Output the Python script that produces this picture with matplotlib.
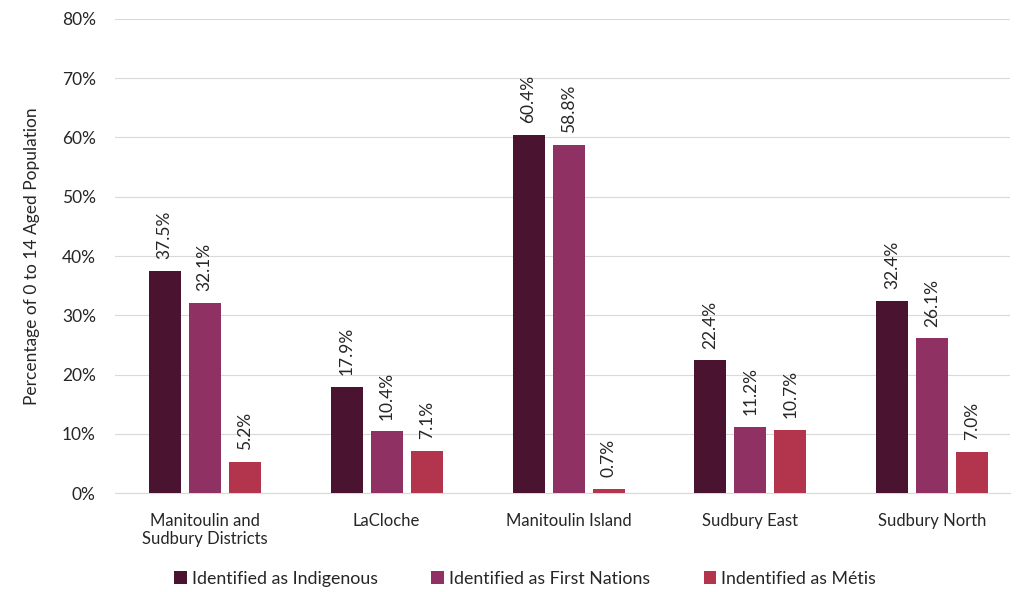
import matplotlib.pyplot as plt
import numpy as np
from matplotlib.ticker import PercentFormatter

plt.rcParams['font.family'] = ['Lato', 'DejaVu Sans']

regions = ["Manitoulin and\nSudbury Districts", "LaCloche", "Manitoulin Island",
           "Sudbury East", "Sudbury North"]
series_names = ["Identified as Indigenous", "Identified as First Nations",
                "Indentified as Métis"]
indigenous = [37.5, 17.9, 60.4, 22.4, 32.4]
first_nations = [32.1, 10.4, 58.8, 11.2, 26.1]
metis = [5.2, 7.1, 0.7, 10.7, 7.0]
colors = ["#4a1430", "#8f3163", "#b3344d"]

fig = plt.figure(figsize=(10.2, 5.92), dpi=100)
ax = fig.add_axes([0.113, 0.167, 0.877, 0.801])

x = np.arange(len(regions))
width = 0.176
step = 0.22
for i, (vals, name, c) in enumerate(zip([indigenous, first_nations, metis], series_names, colors)):
    pos = x + (i - 1) * step
    ax.bar(pos, vals, width, color=c, label=name, zorder=3)
    for px, v in zip(pos, vals):
        ax.text(px, v + 2.0, f"{v:.1f}%", rotation=90, ha="center", va="bottom",
                fontsize=12.5, color="#262626")

ax.set_ylim(0, 80)
ax.set_xlim(-0.492, 4.426)
ax.set_yticks(range(0, 81, 10))
ax.yaxis.set_major_formatter(PercentFormatter(decimals=0))
ax.grid(axis="y", color="#d9d9d9", linewidth=0.8, zorder=0)
ax.set_xticks(x)
ax.set_xticklabels(regions, fontsize=12, color="#262626")
ax.tick_params(axis="y", labelsize=12.5, colors="#262626", length=0, pad=14)
ax.tick_params(axis="x", length=0, pad=14)
for s in ["top", "right", "left"]:
    ax.spines[s].set_visible(False)
ax.spines["bottom"].set_color("#d9d9d9")
ax.set_ylabel("Percentage of 0 to 14 Aged Population", fontsize=12.5, color="#262626", labelpad=16)

fig.legend(loc="lower center", bbox_to_anchor=(0.515, -0.018), ncol=3, frameon=False,
           fontsize=12.8, handlelength=0.7, handleheight=0.7, handletextpad=0.3,
           columnspacing=3.0, labelcolor="#262626")

fig.savefig("out.png", dpi=100)
